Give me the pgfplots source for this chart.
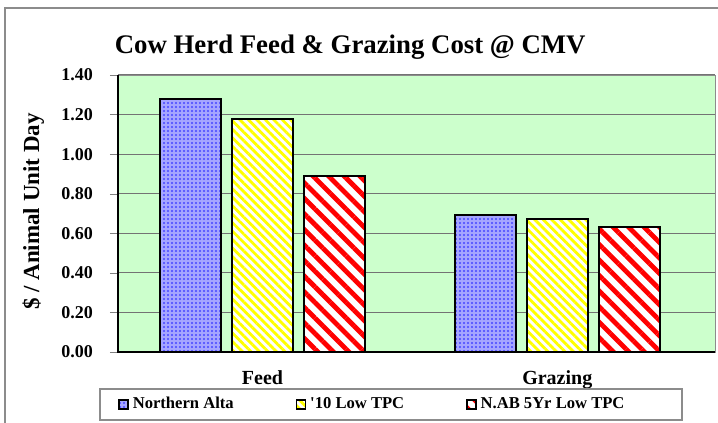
\documentclass[border=0pt]{standalone}
\usepackage{fontspec}
\setmainfont{Liberation Serif}
\usepackage{pgfplots}
\pgfplotsset{compat=1.18}
\usetikzlibrary{patterns.meta}
\definecolor{plotbg}{RGB}{204,255,204}
\definecolor{framegray}{RGB}{140,140,140}
\definecolor{dotblue}{RGB}{70,70,255}

\begin{document}
\begin{tikzpicture}
\useasboundingbox (-59pt,-35.5pt) rectangle (300pt,176pt);
\draw[framegray, line width=0.8pt] (-56.5pt,-40pt) -- (-56.5pt,172pt) -- (305pt,172pt);
\begin{axis}[
at={(0,0)}, anchor=south west,
scale only axis, clip=false,
width=298.5pt, height=138.5pt,
ybar=5.5pt, bar width=30.5pt,
xmin=-0.49, xmax=1.535,
ymin=0, ymax=1.4,
xtick={0,1}, xticklabels={Feed,Grazing},
xtick style={draw=none},
xticklabel style={font=\fontsize{10}{12}\selectfont\bfseries, yshift=-2pt},
extra x ticks={-0.49,0.515,1.535},
extra x tick labels={},
extra x tick style={tick style={draw=black}, major tick length=4pt},
ytick={0,0.2,...,1.4},
yticklabel style={font=\fontsize{9}{11}\selectfont\bfseries, xshift=-5pt,
  /pgf/number format/.cd, fixed, fixed zerofill, precision=2, assume math mode=true},
tick align=outside,
major tick length=4pt,
ytick pos=left, xtick pos=bottom,
ymajorgrids, grid style={draw=gray!90!black, line width=0.6pt},
axis background/.style={fill=plotbg},
axis line style={framegray},
ylabel={\$ / Animal Unit Day},
ylabel style={font=\fontsize{11.5}{13}\selectfont\bfseries, at={(axis description cs:-0.142,0.507)}, anchor=center},
title={Cow Herd Feed \& Grazing Cost @ CMV},
title style={font=\fontsize{13.4}{15}\selectfont\bfseries, at={(axis description cs:0.389,1.056)}, anchor=center},
legend style={draw=none, fill=none, at={(axis description cs:0.0,-0.19)}, anchor=west,
  font=\fontsize{8.3}{10}\selectfont\bfseries, legend columns=3, inner xsep=0pt,
  /tikz/every even column/.append style={column sep=29pt}},
legend image code/.code={\draw[#1, line width=0.8pt] (0pt,-2.2pt) rectangle (4.4pt,2.2pt);},
every axis plot/.append style={draw=black, line width=1pt},
]
\addplot[fill=blue!35!white, postaction={pattern={Dots[distance=2pt, radius=0.55pt]}, pattern color=dotblue}]
  coordinates {(0,1.28) (1,0.69)};
\addplot[fill=white, postaction={pattern={Lines[angle=-45, distance=3pt, line width=1.4pt]}, pattern color=yellow}]
  coordinates {(0,1.18) (1,0.67)};
\addplot[fill=white, postaction={pattern={Lines[angle=-45, distance=5.5pt, line width=2.4pt]}, pattern color=red}]
  coordinates {(0,0.89) (1,0.63)};
\legend{Northern Alta,\textquotesingle10 Low TPC,N.AB 5Yr Low TPC}
\draw[black, line width=0.8pt] (axis description cs:0,1) -- (axis description cs:0,0) -- (axis description cs:1,0);
\draw[framegray, line width=0.8pt] (axis description cs:-0.030,-0.134) rectangle (axis description cs:0.945,-0.245);
\end{axis}
\end{tikzpicture}
\end{document}
